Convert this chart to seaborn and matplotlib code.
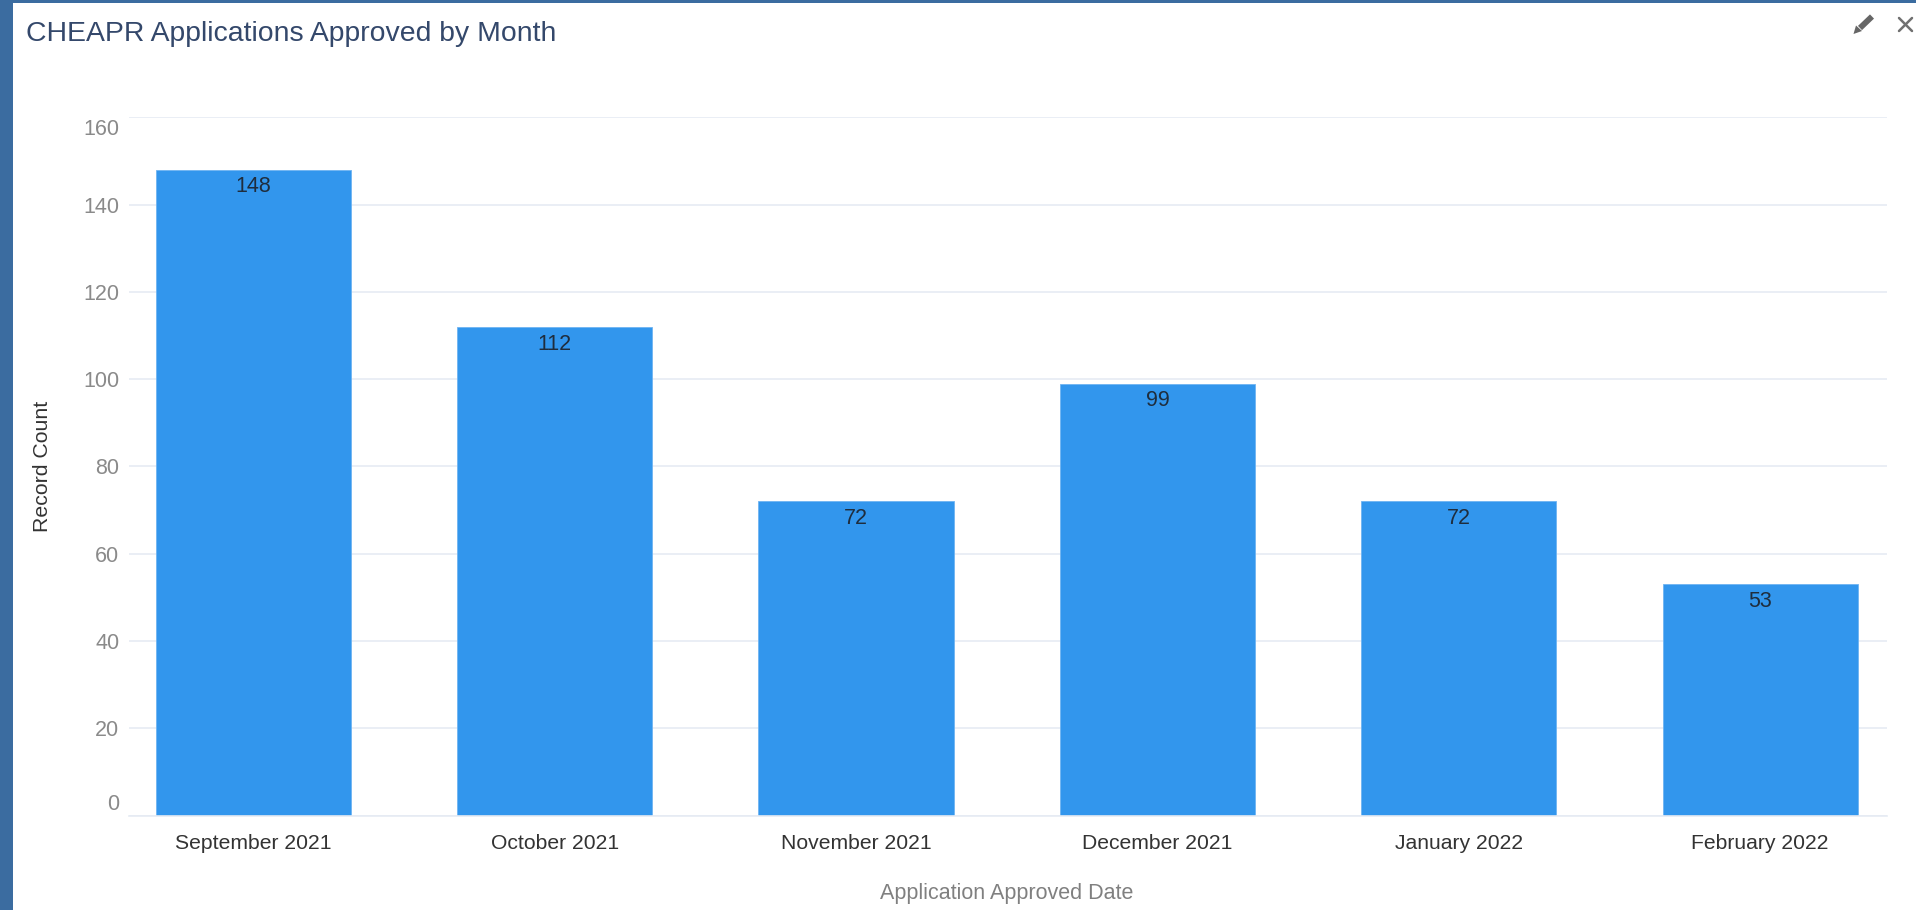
import matplotlib
matplotlib.use("Agg")
import matplotlib.pyplot as plt
from matplotlib.lines import Line2D
from matplotlib.patches import Polygon, Rectangle
from matplotlib.transforms import ScaledTranslation
import pandas as pd
import seaborn as sns

months = ["September 2021", "October 2021", "November 2021",
          "December 2021", "January 2022", "February 2022"]
counts = [148, 112, 72, 99, 72, 53]
y_ticks = [0, 20, 40, 60, 80, 100, 120, 140, 160]

W, H = 1916, 910
sns.set_theme(style="white")
plt.rcParams["font.family"] = ["Liberation Sans", "DejaVu Sans"]

fig = plt.figure(figsize=(W / 100, H / 100), dpi=100, facecolor="white")
L, R, T, B = 129, 1887, 117.3, 815.7
ax = fig.add_axes([L / W, 1 - B / H, (R - L) / W, (B - T) / H])

df = pd.DataFrame({"month": months, "count": counts})
sns.barplot(data=df, x="month", y="count", ax=ax, color="#3296ED",
            saturation=1, width=0.648, edgecolor="#6FB4F2", linewidth=0.6)

ax.set_xlim((L - 253.2) / 301.4, (R - 253.2) / 301.4)
ax.set_ylim(0, 160)
ax.set_yticks(y_ticks)
ax.set_axisbelow(True)
ax.grid(axis="y", color="#E6EBF3", linewidth=1.2)
ax.grid(axis="x", visible=False)
for s in ax.spines.values():
    s.set_visible(False)
ax.spines["bottom"].set_visible(True)
ax.spines["bottom"].set_color("#E6EBF3")
ax.spines["bottom"].set_linewidth(1.2)

ax.tick_params(axis="y", length=0, pad=7, labelsize=15.5, labelcolor="#8A8A8A")
ax.tick_params(axis="x", length=0, pad=13.5, labelsize=15.2, labelcolor="#333333")

# the first and last value labels sit nudged toward the plot in the reference
yl = ax.get_yticklabels()
yl[0].set_transform(yl[0].get_transform() + ScaledTranslation(0, 14 / 100, fig.dpi_scale_trans))
yl[-1].set_transform(yl[-1].get_transform() + ScaledTranslation(0, -10 / 100, fig.dpi_scale_trans))

ax.set_xlabel("")
ax.set_ylabel("")
fig.text(1007 / W, 1 - 894 / H, "Application Approved Date", ha="center", va="center",
         fontsize=15.5, color="#808080")
fig.text(43 / W, 1 - 466 / H, "Record Count", rotation=90, ha="center", va="center",
         fontsize=15.3, color="#333333")

ax.bar_label(ax.containers[0], padding=-20, fontsize=15.5, color="#1F2D3D")

fig.text(26 / W, 1 - 34 / H, "CHEAPR Applications Approved by Month", ha="left", va="center",
         fontsize=20.4, color="#34486B")

# page chrome
fig.add_artist(Rectangle((0, 0), 13 / W, 1, transform=fig.transFigure, color="#3B6CA0", lw=0))
fig.add_artist(Rectangle((0, 1 - 3 / H), 1, 3 / H, transform=fig.transFigure, color="#3B6CA0", lw=0))


def px(x, y):
    return x / W, 1 - y / H


for a, b in [((1899, 18), (1912, 31)), ((1912, 18), (1899, 31))]:
    (x0, y0), (x1, y1) = px(*a), px(*b)
    fig.add_artist(Line2D([x0, x1], [y0, y1], transform=fig.transFigure, color="#707070", lw=1.8))
(x0, y0), (x1, y1) = px(1860, 28), px(1872, 16.5)
fig.add_artist(Line2D([x0, x1], [y0, y1], transform=fig.transFigure, color="#666666",
                      lw=4.2, solid_capstyle="butt"))
fig.add_artist(Polygon([px(1853.5, 34), px(1856, 25.5), px(1862, 31)], closed=True,
                       transform=fig.transFigure, color="#666666", lw=0))

fig.savefig("out.png", dpi=100)
